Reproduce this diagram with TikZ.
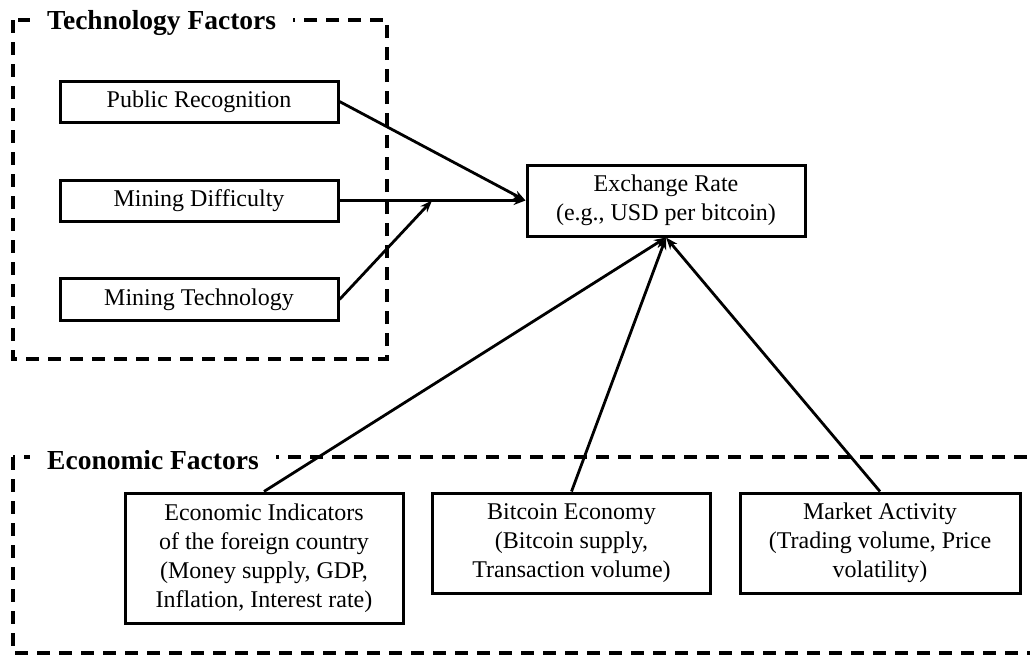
\documentclass[tikz,border=0pt]{standalone}
\usepackage{fontspec}
\setmainfont{Liberation Serif}
\usetikzlibrary{arrows.meta}
\begin{document}
\begin{tikzpicture}[x=1pt,y=-1pt,
  factorbox/.style={draw, line width=3.2pt, dash pattern=on 13pt off 9pt},
  itembox/.style={draw, line width=3pt, minimum width=278pt, inner sep=2pt, align=center,
    font=\fontsize{24}{29}\selectfont},
  grouptitle/.style={fill=white, inner xsep=17pt, inner ysep=2pt, anchor=west,
    font=\fontsize{27.5}{30}\selectfont\bfseries},
  link/.style={line width=2.8pt, -{Stealth[length=12pt,width=9pt]}}]
\clip (0,0) rectangle (1030,656);
\fill[white] (0,0) rectangle (1030,656);
% group frames
\draw[factorbox] (13,20) rectangle (387,359);
\draw[factorbox] (13,457) rectangle (1050,653);
\node[grouptitle] (tt) at (30,23) {Technology Factors};
\node[grouptitle] (et) at (30,460) {Economic Factors};
% technology items
\node[itembox, minimum height=41pt] (pr) at (199,101.5) {Public Recognition};
\node[itembox, minimum height=41pt] (md) at (199,200.5) {Mining Difficulty};
\node[itembox, minimum height=42pt] (mt) at (199,299.5) {Mining Technology};
% exchange rate
\node[itembox, minimum height=71pt] (ex) at (666,200.5) {Exchange Rate\\(e.g., USD per bitcoin)};
% economic items
\node[itembox, minimum height=130pt] (ei) at (264,558) {Economic Indicators\\of the foreign country\\(Money supply, GDP,\\Inflation, Interest rate)};
\node[itembox, minimum height=100pt] (be) at (571.5,543) {Bitcoin Economy\\(Bitcoin supply,\\Transaction volume)};
\node[itembox, minimum height=100pt, minimum width=280pt] (ma) at (880,543) {Market Activity\\(Trading volume, Price\\volatility)};
% connectors
\coordinate (j) at (432,200.5);
\draw[link] (pr.east) -- (ex.west);
\draw[link] (md.east) -- (ex.west);
\draw[link] (mt.east) -- (j);
\draw[link] (ei.north) -- (ex.south);
\draw[link] (be.north) -- (ex.south);
\draw[link] (ma.north) -- (ex.south);
\end{tikzpicture}
\end{document}
